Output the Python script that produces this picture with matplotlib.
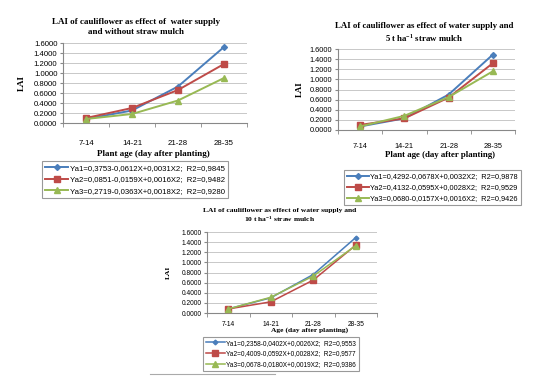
import matplotlib
matplotlib.use("Agg")
from matplotlib import pyplot as plt
from matplotlib.lines import Line2D

# categories (plant age)
ages = ['7-14', '14-21', '21-28', '28-35']

# panel 1 - without straw mulch
p1_ya1 = [0.08, 0.25, 0.73, 1.52]
p1_ya2 = [0.10, 0.30, 0.66, 1.18]
p1_ya3 = [0.08, 0.18, 0.45, 0.90]
p1_labels = ['Ya1=0,3753-0,0612X+0,0031X2;  R2=0,9845',
             'Ya2=0,0851-0,0159X+0,0016X2;  R2=0,9482',
             'Ya3=0,2719-0,0363X+0,0018X2;  R2=0,9280']

# panel 2 - 5 t/ha straw mulch
p2_ya1 = [0.07, 0.23, 0.70, 1.49]
p2_ya2 = [0.10, 0.23, 0.64, 1.32]
p2_ya3 = [0.07, 0.28, 0.65, 1.16]
p2_labels = ['Ya1=0,4292-0,0678X+0,0032X2;  R2=0,9878',
             'Ya2=0,4132-0,0595X+0,0028X2;  R2=0,9529',
             'Ya3=0,0680-0,0157X+0,0016X2;  R2=0,9426']

# panel 3 - 10 t/ha straw mulch
p3_ya1 = [0.08, 0.30, 0.76, 1.49]
p3_ya2 = [0.08, 0.22, 0.65, 1.34]
p3_ya3 = [0.08, 0.31, 0.73, 1.33]
p3_labels = ['Ya1=0,2358-0,0402X+0,0026X2;  R2=0,9553',
             'Ya2=0,4009-0,0592X+0,0028X2;  R2=0,9577',
             'Ya3=0,0678-0,0180X+0,0019X2;  R2=0,9386']

yticks = [0, 0.2, 0.4, 0.6, 0.8, 1.0, 1.2, 1.4, 1.6]

colors = ['#4A7EBB', '#BE4B48', '#98B954']
markers = ['D', 's', '^']
msizes = [3, 5, 5]

serif = 'Liberation Serif'
sans = 'Liberation Sans'
plt.rcParams['mathtext.fontset'] = 'custom'
plt.rcParams['mathtext.rm'] = serif
plt.rcParams['mathtext.bf'] = serif + ':bold'

W, H = 543.0, 376.0
fig = plt.figure(figsize=(5.43, 3.76), dpi=100)


def px_rect(x0, y0, x1, y1):
    # pixel box (top-left origin) -> figure fraction rect
    return [x0 / W, 1 - y1 / H, (x1 - x0) / W, (y1 - y0) / H]


def panel(box, series, labels, title, tpos, tls, xlabel, xlpos, ylx, fs, tfs, lfs,
          tick_pad, leg_anchor, scale=1.0, spacing=0.55):
    ax = fig.add_axes(px_rect(*box))
    x = range(len(ages))
    for s, c, m, ms, lab in zip(series, colors, markers, msizes, labels):
        ax.plot(x, s, color=c, marker=m, markersize=ms * scale, lw=1.4 * scale,
                label=lab, zorder=3)
    ax.set_xlim(-0.5, 3.5)
    ax.set_ylim(0, 1.6)
    ax.set_yticks(yticks)
    ax.set_yticklabels(['%.4f' % v for v in yticks], fontsize=fs, fontfamily=sans)
    ax.set_xticks(list(x))
    ax.set_xticklabels(ages, fontsize=fs, fontfamily=sans)
    ax.set_xticks([-0.5, 0.5, 1.5, 2.5, 3.5], minor=True)
    ax.tick_params(axis='x', which='major', length=0, pad=tick_pad)
    ax.tick_params(axis='x', which='minor', length=3, color='#888888')
    ax.tick_params(axis='y', length=2, color='#888888', pad=2)
    ax.grid(axis='y', color='#C8C8C8', lw=0.7)
    ax.set_axisbelow(True)
    for sp in ['top', 'right']:
        ax.spines[sp].set_visible(False)
    ax.spines['left'].set_color('#888888')
    ax.spines['bottom'].set_color('#888888')

    fig.text(tpos[0] / W, 1 - tpos[1] / H, title, fontsize=tfs, fontweight='bold',
             fontfamily=serif, ha='center', va='center', linespacing=tls)

    bw = box[2] - box[0]
    bh = box[3] - box[1]
    ax.set_xlabel(xlabel, fontsize=tfs, fontweight='bold', fontfamily=serif, va='center')
    ax.xaxis.set_label_coords((xlpos[0] - box[0]) / bw, (box[3] - xlpos[1]) / bh)
    ax.set_ylabel('LAI', fontsize=tfs, fontweight='bold', fontfamily=serif, va='center')
    ax.yaxis.set_label_coords((ylx - box[0]) / bw, 0.5)

    leg = fig.legend(handles=ax.get_lines(), loc='upper left',
                     bbox_to_anchor=(leg_anchor[0] / W, 1 - leg_anchor[1] / H),
                     prop={'family': sans, 'size': lfs}, frameon=True, fancybox=False,
                     edgecolor='#808080', borderpad=0.4, labelspacing=spacing,
                     handlelength=3.0, handletextpad=0.2, borderaxespad=0)
    leg.get_frame().set_linewidth(0.8)
    return ax


panel((63, 43, 247, 123), [p1_ya1, p1_ya2, p1_ya3], p1_labels,
      'LAI of cauliflower as effect of  water supply\nand without straw mulch', (136, 27), 1.5,
      'Plant age (day after planting)', (153, 154), 22,
      5.6, 6.5, 5.6, 12, (42, 161))

panel((338, 49, 515, 130), [p2_ya1, p2_ya2, p2_ya3], p2_labels,
      'LAI of cauliflower as effect of water supply and\n5 t ha$^{\\mathbf{-1}}$ straw mulch', (424, 33), 1.15,
      'Plant age (day after planting)', (440, 155), 300,
      5.3, 6.3, 5.3, 9, (344, 170))

panel((207, 232, 377, 313), [p3_ya1, p3_ya2, p3_ya3], p3_labels,
      'LAI of cauliflower as effect of water supply and\n10 t ha$^{\\mathbf{-1}}$ straw mulch', (280, 216), 1.15,
      'Age (day after planting)', (310, 330), 168,
      4.8, 5.4, 4.7, 6, (203, 337), scale=0.8, spacing=0.6)

# thin rule under the third chart
fig.add_artist(Line2D([150 / W, 275 / W], [1 - 374 / H, 1 - 374 / H], color='#AAAAAA', lw=0.8))

fig.savefig('out.png', dpi=100)
